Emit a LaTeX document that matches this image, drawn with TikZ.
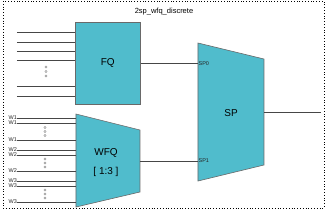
\documentclass[tikz,border=0pt]{standalone}
\usepackage{fontspec}
\setmainfont{Liberation Sans}
\usetikzlibrary{positioning}
\definecolor{qteal}{RGB}{80,188,204}
\definecolor{qedge}{RGB}{105,105,105}
\definecolor{qline}{RGB}{70,70,70}
\tikzset{
  blk/.style={fill=qteal,draw=qedge,line width=0.6pt},
  wire/.style={draw=qline,line width=0.8pt},
  port/.style={font=\fontsize{5.5}{6}\selectfont,inner sep=0.4pt,text=black!85},
  dotmark/.style={circle,draw=gray,line width=0.4pt,inner sep=0pt,minimum size=2.4pt},
  big/.style={font=\fontsize{10}{12}\selectfont}
}
\begin{document}
\begin{tikzpicture}[x=1pt,y=-1pt]
        \useasboundingbox (0,0) rectangle (325,212);
        % Frame and title
        \draw[dotted,line width=0.8pt] (3,1) rectangle (324,208);
        \node[font=\fontsize{7.5}{8}\selectfont] (title) at (164,12) {2sp\_wfq\_discrete};

        % FQ block
        \node[blk,big,minimum width=65pt,minimum height=82pt,anchor=north west] (fq) at (75,22) {FQ};

        % WFQ block
        \draw[blk] (76,114) -- (140,130) -- (140,192) -- (76,207) -- cycle;
        \coordinate (wfqleft) at (76,160);
        \coordinate (wfqout) at (140,161);
        \node[big] (wfq) at (106,153) {WFQ};
        \node[big,below=3pt of wfq] (wfqratio) {[ 1:3 ]};

        % SP block
        \draw[blk] (198,43) -- (264,59) -- (264,165) -- (198,181) -- cycle;
        \coordinate (spleft) at (198,112);
        \node[big] (sp) at (231,113) {SP};
        \coordinate (spout) at (264,112);
        \coordinate (spend) at (321,112);
        \node[port,anchor=west] (sp0) at (fq.east -| spleft) {SP0};
        \node[port,anchor=west] (sp1) at (198,161) {SP1};

        % FQ inputs
        \foreach \y [count=\i] in {32,42,51,60,86,96} {
            \coordinate (fqin\i) at (17,\y);
            \draw[wire] (fqin\i) -- (fqin\i -| fq.west);
        }
        \foreach \y [count=\i] in {67,71.5,76}
            \node[dotmark] (fqdot\i) at (46,\y) {};

        % WFQ inputs
        \foreach \y/\w [count=\i] in {118/W1,123/W1,140/W1,150/W2,155/W2,171/W2,181/W3,186/W3,202/W3} {
            \node[port,anchor=east] (win\i) at (17.5,\y) {\w};
            \draw[wire] (win\i.east) -- (win\i.east -| wfqleft);
        }
        \foreach \y [count=\i] in {127.5,131.5,135.5,159,163,167,190,194,198}
            \node[dotmark] (wdot\i) at (45,\y) {};

        % Connections
        \draw[wire] (fq.east) -- (fq.east -| spleft);
        \draw[wire] (wfqout) -- (wfqout -| spleft);
        \draw[wire] (spout) -- (spend);
\end{tikzpicture}
\end{document}
